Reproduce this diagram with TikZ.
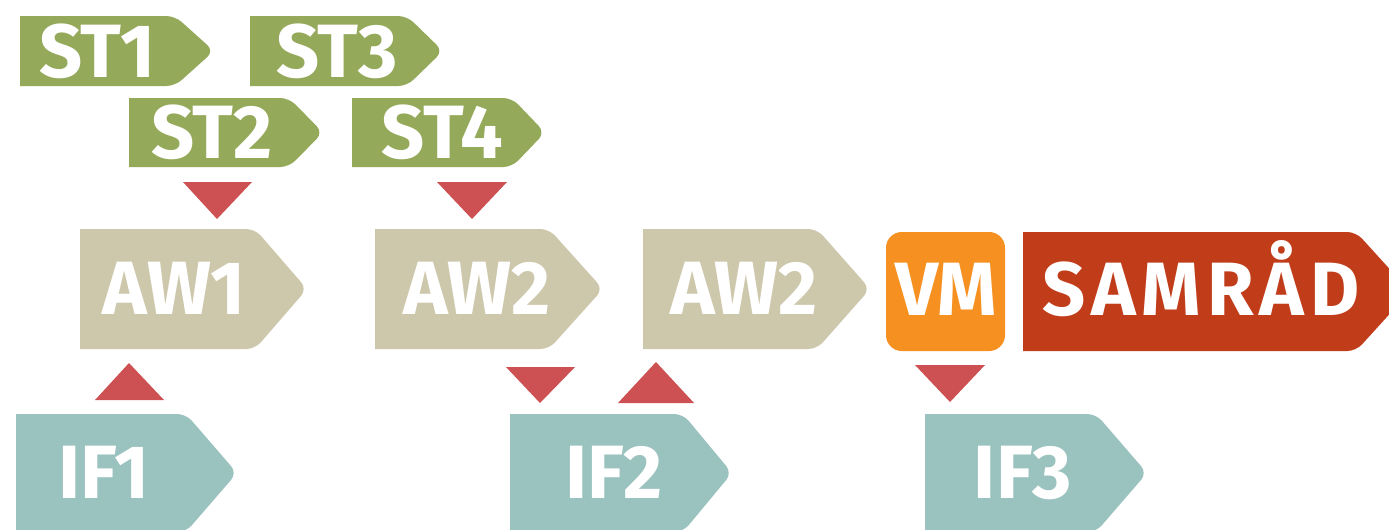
\documentclass[tikz,border=0pt]{standalone}
\usepackage{fontspec}
\setmainfont{Fira Sans}
\definecolor{verde}{RGB}{149,169,90}
\definecolor{sabbia}{RGB}{205,199,171}
\definecolor{acqua}{RGB}{154,194,190}
\definecolor{rosso}{RGB}{205,80,82}
\definecolor{arancio}{RGB}{246,144,32}
\definecolor{mattone}{RGB}{193,61,26}
\tikzset{etichetta/.style={anchor=base,text=white,inner sep=0pt,font=\fontsize{43}{43}\selectfont\bfseries}}
% cartello: x sinistra, y alto, x spigolo, x punta, y basso, colore
\newcommand{\cartello}[6]{\fill[#6] (#1,#2) [rounded corners=5pt] -- (#3,#2) -- (#4,{(#2+#5)/2}) -- (#3,#5) [sharp corners] -- (#1,#5) -- cycle;}
\begin{document}
\begin{tikzpicture}[x=0.02cm,y=-0.02cm]
        \useasboundingbox (0,0) rectangle (1389,529);
        \clip (0,0) rectangle (1389,529);
        %ST
        \cartello{20}{16}{175}{214}{86}{verde}
        \cartello{250}{16}{407}{443}{86}{verde}
        \cartello{129}{98}{289}{323}{167}{verde}
        \cartello{352}{98}{512}{545}{167}{verde}
        %AW
        \cartello{80}{229}{255}{307}{349}{sabbia}
        \cartello{375}{229}{549}{603}{349}{sabbia}
        \cartello{643}{229}{817}{870}{349}{sabbia}
        %IF
        \cartello{16}{414}{186}{237}{532}{acqua}
        \cartello{510}{414}{683}{732}{532}{acqua}
        \cartello{925}{414}{1096}{1147}{532}{acqua}
        %VM e samrad
        \fill[arancio,rounded corners=9pt] (886,232) rectangle (1005,351);
        \cartello{1023}{232}{1356}{1410}{351}{mattone}
        % triangoli
        \fill[rosso] (183,182) -- (252,182) -- (217,219) -- cycle;
        \fill[rosso] (437,182) -- (507,182) -- (472,219) -- cycle;
        \fill[rosso] (95,400) -- (164,400) -- (129,363) -- cycle;
        \fill[rosso] (506,367) -- (575,367) -- (540,403) -- cycle;
        \fill[rosso] (618,403) -- (694,403) -- (656,362) -- cycle;
        \fill[rosso] (915,365) -- (985,365) -- (950,402) -- cycle;
        % testi
        \node[etichetta] (st1) at (97,77) {ST1};
        \node[etichetta] (st3) at (337,77) {ST3};
        \node[etichetta] (st2) at (212,158) {ST2};
        \node[etichetta] (st4) at (442,158) {ST4};
        \node[etichetta] (aw1) at (174,314) {AW1};
        \node[etichetta] (aw2a) at (477,314) {AW2};
        \node[etichetta] (aw2b) at (744,314) {AW2};
        \node[etichetta] (vm) at (946,315) {VM};
        \node[etichetta] (samrad) at (1201,315) {\addfontfeature{LetterSpace=8}SAMRÅD};
        \node[etichetta] (if1) at (104,498) {IF1};
        \node[etichetta] (if2) at (614,498) {IF2};
        \node[etichetta] (if3) at (1023,498) {IF3};
\end{tikzpicture}
\end{document}
